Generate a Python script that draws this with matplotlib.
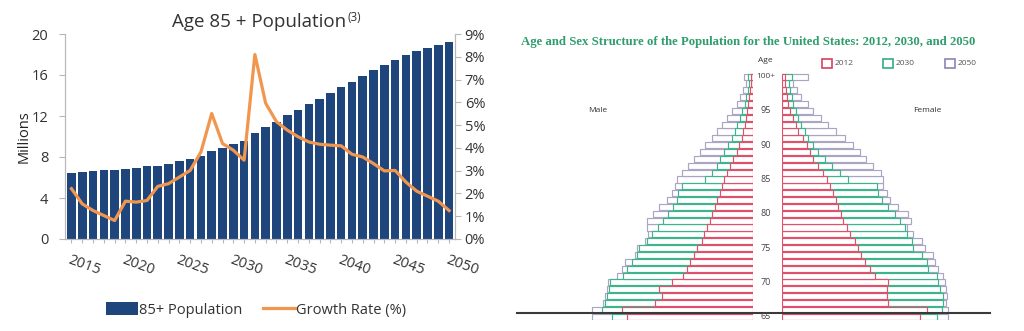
import numpy as np
import matplotlib.pyplot as plt
from matplotlib.lines import Line2D
from matplotlib.patches import Rectangle

# Age 85+ projection (left chart)
YEARS = list(range(2015, 2051))
POP_85 = [6.44, 6.54, 6.63, 6.70, 6.73, 6.80, 6.96, 7.09, 7.16, 7.35,
          7.61, 7.84, 8.10, 8.56, 8.92, 9.28, 9.54, 10.36, 10.95, 11.44,
          12.06, 12.58, 13.14, 13.69, 14.25, 14.80, 15.33, 15.92, 16.47, 16.93,
          17.48, 17.91, 18.30, 18.63, 18.95, 19.22]
GROWTH = [2.21, 1.54, 1.25, 1.03, 0.81, 1.66, 1.62, 1.69, 2.31, 2.43,
          2.72, 3.01, 3.82, 5.51, 4.19, 3.90, 3.46, 8.10, 5.96, 5.15,
          4.78, 4.49, 4.26, 4.16, 4.12, 4.09, 3.72, 3.60, 3.31, 2.99,
          3.01, 2.50, 2.10, 1.88, 1.66, 1.25]

# Age/sex pyramid, thousands of people, ages 65 .. 100+
AGES = [str(a) for a in range(65, 100)] + ["100+"]
AGE_TICKS = ["65", "70", "75", "80", "85", "90", "95", "100+"]
PYR_YEARS = ["2012", "2030", "2050"]
MALE_2012 = [1520, 1580, 1180, 1100, 1130, 980, 840, 800, 760, 710,
             670, 620, 590, 550, 520, 490, 460, 430, 400, 370,
             350, 310, 280, 240, 200, 170, 140, 120, 100, 84,
             72, 60, 48, 36, 30, 30]
MALE_2030 = [1700, 1820, 1780, 1750, 1730, 1720, 1560, 1510, 1460, 1390,
             1370, 1280, 1220, 1140, 1080, 1020, 960, 920, 900, 860,
             580, 500, 440, 400, 350, 300, 260, 220, 190, 160,
             130, 100, 84, 66, 54, 60]
MALE_2050 = [1940, 1940, 1800, 1780, 1760, 1740, 1640, 1580, 1540, 1420,
             1400, 1300, 1260, 1280, 1280, 1200, 1130, 1040, 980, 940,
             910, 850, 780, 710, 640, 580, 490, 430, 370, 310,
             250, 200, 160, 120, 90, 110]
FEMALE_2012 = [1660, 1740, 1280, 1260, 1260, 1280, 1120, 1060, 1000, 950,
               920, 880, 820, 780, 730, 710, 680, 650, 610, 580,
               540, 490, 430, 380, 340, 300, 250, 200, 170, 130,
               100, 80, 60, 50, 40, 40]
FEMALE_2030 = [1860, 1920, 1940, 1940, 1900, 1880, 1860, 1760, 1740, 1680,
               1580, 1560, 1500, 1480, 1420, 1360, 1280, 1200, 1150, 1140,
               800, 700, 600, 520, 440, 380, 320, 280, 230, 200,
               170, 140, 120, 100, 90, 120]
FEMALE_2050 = [2000, 2000, 1970, 1980, 1970, 1960, 1940, 1880, 1840, 1810,
               1720, 1680, 1580, 1500, 1550, 1520, 1400, 1300, 1260, 1220,
               1220, 1190, 1100, 1010, 940, 860, 760, 650, 560, 470,
               380, 310, 230, 180, 140, 310]

NAVY = "#1e467d"
ORANGE = "#f0964f"
PYR_COLORS = {"2012": "#e0506a", "2030": "#3db48c", "2050": "#aaa5c2"}
LEGEND_COLORS = {"2012": "#d9405e", "2030": "#35ab86", "2050": "#8c85b4"}

W, H = 1024, 331


def box(x0, y0, x1, y1):
    return [x0 / W, 1 - y1 / H, (x1 - x0) / W, (y1 - y0) / H]


def fx(x):
    return x / W


def fy(y):
    return 1 - y / H


plt.rcParams["font.family"] = ["Open Sans", "DejaVu Sans"]

fig = plt.figure(figsize=(W / 100, H / 100), dpi=100)

# ---- Age 85+ bars and growth line ----
ax = fig.add_axes(box(65, 34, 455, 239))
x = np.arange(len(YEARS))
ax.bar(x, POP_85, width=0.8, color=NAVY, label="85+ Population")
ax.set_xlim(-0.6, len(YEARS) - 0.45)
ax.set_ylim(0, 20)
ax.set_yticks([0, 4, 8, 12, 16, 20])
ax.set_ylabel("Millions", fontsize=10.5, color="#222", labelpad=0)
ax.set_xticks(x)
ax.set_xticklabels([str(y) if y % 5 == 0 else "" for y in YEARS],
                   rotation=-20, rotation_mode="anchor", ha="left", va="top")
ax.spines["top"].set_visible(False)
for side in ["left", "right", "bottom"]:
    ax.spines[side].set_color("#b8b8b8")
ax.tick_params(axis="y", labelsize=10.5, labelcolor="#333", color="#b8b8b8",
               length=4, pad=8)
ax.tick_params(axis="x", labelsize=10.5, labelcolor="#333", color="#b8b8b8",
               length=3, pad=7)

ax2 = ax.twinx()
ax2.plot(x, GROWTH, color=ORANGE, lw=2.3, label="Growth Rate (%)")
ax2.set_ylim(0, 9)
ax2.set_yticks(range(10))
ax2.set_yticklabels([f"{v}%" for v in range(10)])
ax2.spines["top"].set_visible(False)
for side in ["left", "right", "bottom"]:
    ax2.spines[side].set_color("#b8b8b8")
ax2.tick_params(axis="y", labelsize=10.5, labelcolor="#333", color="#b8b8b8",
                length=4, pad=3)

handles = [ax.containers[0], ax2.lines[0]]
fig.legend(handles, ["85+ Population", "Growth Rate (%)"], loc="center",
           bbox_to_anchor=(fx(256), fy(310)), ncol=2, frameon=False,
           fontsize=10.5, handlelength=2.2, handleheight=0.9,
           handletextpad=0.1, columnspacing=1.4, labelcolor="#333")

fig.text(fx(346), fy(27), "Age 85 + Population", ha="right", va="baseline",
         fontsize=13.5, color="#333")
fig.text(fx(348), fy(21), "(3)", ha="left", va="baseline", fontsize=8.5,
         color="#333")

# ---- Age and sex pyramid ----
rows = np.arange(len(AGES))
male_ax = fig.add_axes(box(583.3, 73.2, 753.3, 320.1))
female_ax = fig.add_axes(box(781.7, 73.2, 951.7, 320.1))
series_m = {"2012": MALE_2012, "2030": MALE_2030, "2050": MALE_2050}
series_f = {"2012": FEMALE_2012, "2030": FEMALE_2030, "2050": FEMALE_2050}
for pax, series in [(male_ax, series_m), (female_ax, series_f)]:
    for yr in ["2050", "2030", "2012"]:
        pax.barh(rows, series[yr], height=0.88, left=0, facecolor="white",
                 edgecolor=PYR_COLORS[yr], linewidth=0.85)
    pax.set_ylim(-0.5, len(AGES) - 0.5)
    pax.axis("off")
male_ax.set_xlim(2040, 0)
female_ax.set_xlim(0, 2040)

# age labels between the halves
for lab in AGE_TICKS:
    r = AGES.index(lab)
    ypix = 316.7 - r * 6.86
    if lab == "100+":
        fig.text(fx(756), fy(ypix), lab, ha="left", va="center", fontsize=6,
                 color="#444")
    else:
        fig.text(fx(766), fy(ypix), lab, ha="center", va="center",
                 fontsize=6.5, color="#444")

fig.text(fx(765), fy(61), "Age", ha="center", va="center", fontsize=6,
         color="#333")
fig.text(fx(598), fy(110), "Male", ha="center", va="center", fontsize=6,
         color="#333")
fig.text(fx(927), fy(110), "Female", ha="center", va="center", fontsize=6,
         color="#333")

for yr, sx in zip(PYR_YEARS, [822, 883, 945]):
    fig.add_artist(Rectangle((fx(sx), fy(68)), 10 / W, 9 / H,
                             transform=fig.transFigure, facecolor="white",
                             edgecolor=LEGEND_COLORS[yr], linewidth=1.2))
    fig.text(fx(sx + 13), fy(63.5), yr, ha="left", va="center", fontsize=6,
             color="#555")

fig.text(fx(748), fy(42),
         "Age and Sex Structure of the Population for the United States: "
         "2012, 2030, and 2050",
         ha="center", va="center", fontsize=9.2, fontweight="bold",
         family=["Liberation Serif", "DejaVu Serif"], color="#2f9d6d")

fig.add_artist(Line2D([fx(517), fx(990)], [fy(313), fy(313)],
                      transform=fig.transFigure, color="#3a3a3a", lw=1.5))

fig.savefig("out.png", dpi=100, facecolor="white")
